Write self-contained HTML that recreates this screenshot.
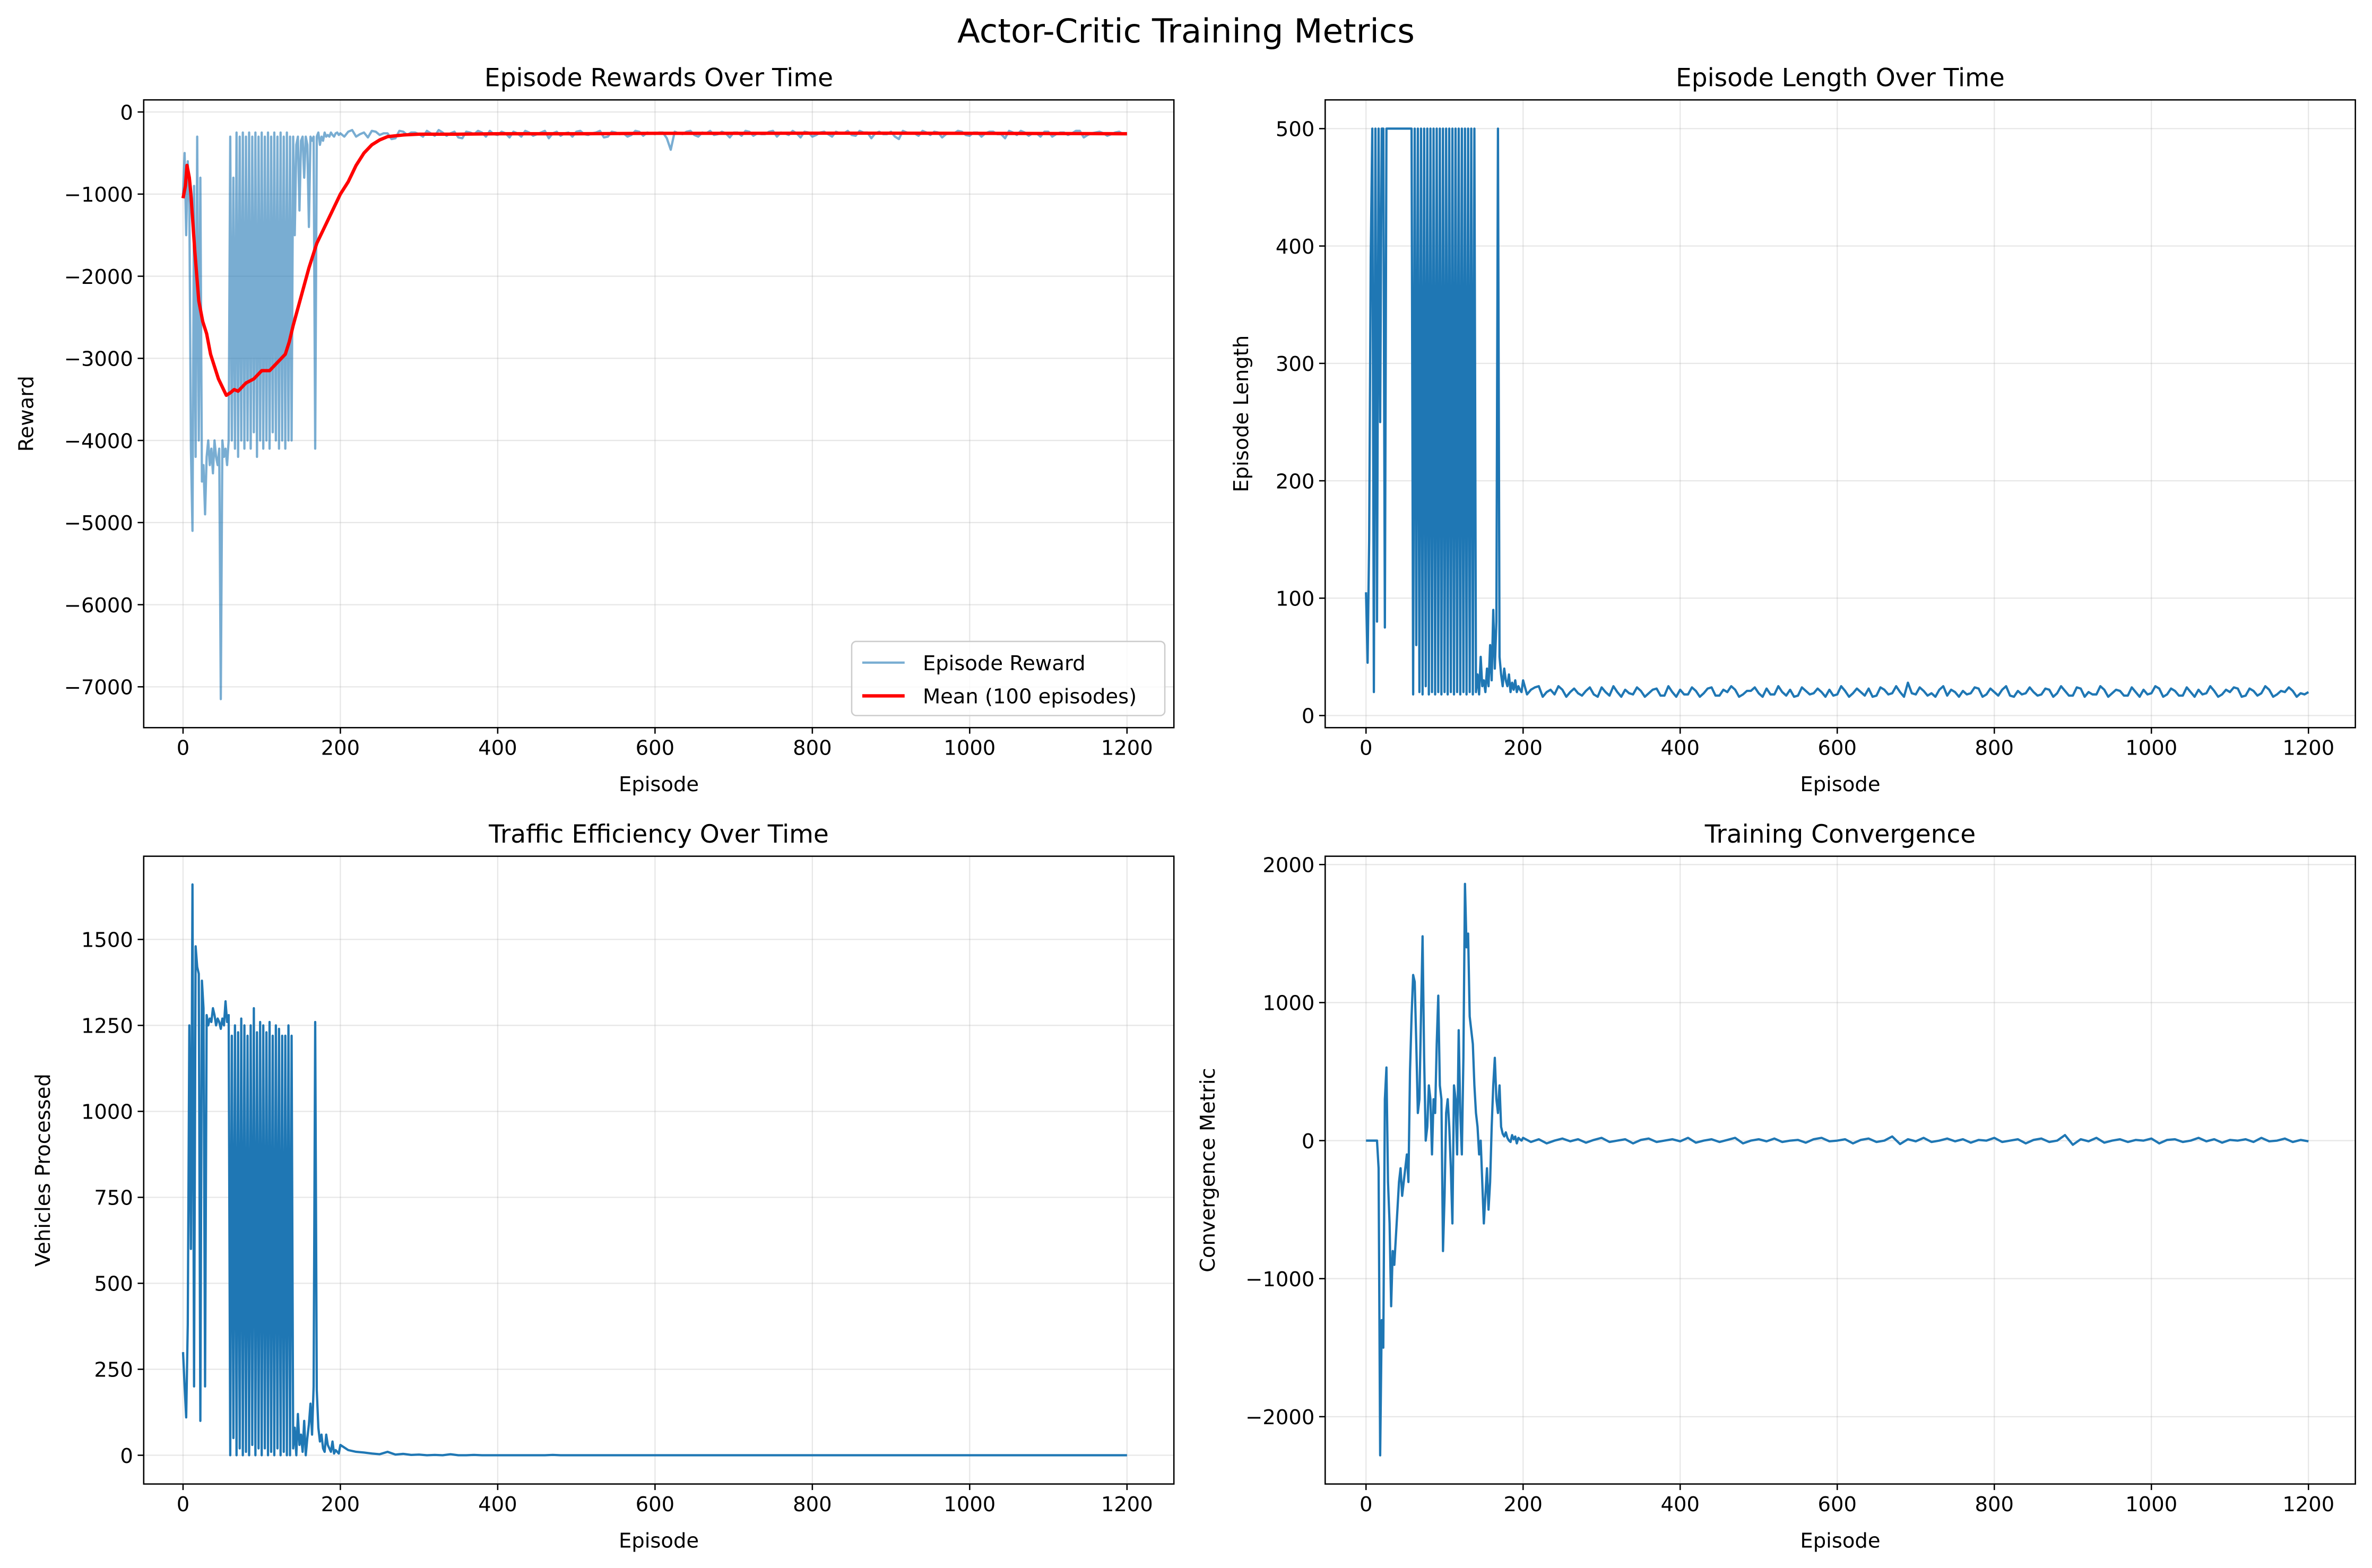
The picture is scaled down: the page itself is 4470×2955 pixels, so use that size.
<!DOCTYPE html>
<html><head><meta charset="utf-8"><style>html,body{margin:0;padding:0;background:#fff}svg{display:block}text{font-family:"DejaVu Sans","Liberation Sans",sans-serif;fill:#000}</style></head>
<body>
<svg id="fig" width="4470" height="2955" viewBox="0 0 1568 1036.5" xmlns="http://www.w3.org/2000/svg">
<rect width="1568" height="1036.5" fill="#fff"/>
<text x="784" y="28" font-size="22" text-anchor="middle">Actor-Critic Training Metrics</text>
</svg>
<script>
// Dense section: episodes 0..198 step 2; tail: 200..1200 step 10; tailB: 205..1195 step 10
const rewardDense = [-1000,-500,-1500,-600,-1100,-4100,-5100,-900,-4200,-300,
-4000,-800,-4500,-4300,-4900,-4200,-4000,-4300,-4100,-4400,
-4000,-4200,-4300,-4100,-7150,-4000,-4200,-4100,-4300,-4000,
-300,-4000,-800,-4100,-250,-4200,-300,-4000,-250,-4100,
-300,-4000,-250,-4100,-300,-3900,-250,-4200,-300,-4000,
-250,-4100,-300,-4000,-250,-4100,-300,-3900,-250,-4000,
-300,-4100,-250,-4000,-300,-4100,-250,-4000,-300,-4000,
-300,-1500,-400,-300,-1200,-350,-300,-800,-300,-400,
-1400,-300,-350,-300,-4100,-300,-250,-400,-300,-350,
-250,-300,-280,-300,-250,-280,-300,-260,-250,-280];
const rewardTail = [-260,-240,-300,-250,-230,-280,-260,-320,-240,-250,-270,-230,-290,-250,-260,-310,-240,-270,-250,-230,
-280,-260,-240,-300,-250,-270,-230,-260,-290,-250,-240,-270,-260,-230,-300,-250,-260,-280,-240,-250,
-270,-250,-460,-260,-240,-280,-250,-230,-270,-260,-250,-290,-240,-260,-270,-230,-250,-280,-260,-240,
-300,-250,-270,-240,-260,-280,-230,-250,-260,-270,-240,-330,-250,-260,-230,-280,-250,-270,-260,-240,
-290,-250,-260,-240,-270,-230,-280,-250,-260,-300,-240,-270,-250,-260,-230,-280,-250,-260,-270,-240,-260];
const rewardTailB = [-300,-220,-270,-310,-240,-260,-330,-230,-280,-250,-300,-260,-220,-290,-240,-320,-250,-230,-300,-270,
-240,-310,-260,-230,-290,-250,-320,-240,-260,-300,-230,-280,-250,-310,-240,-270,-300,-230,-290,-260,
-250,-320,-240,-270,-230,-300,-260,-280,-240,-310,-250,-230,-290,-270,-240,-300,-260,-230,-310,-250,
-280,-240,-300,-260,-230,-290,-250,-320,-240,-270,-300,-230,-260,-290,-250,-240,-310,-260,-230,-280,
-250,-300,-240,-270,-320,-250,-230,-290,-260,-240,-300,-250,-280,-230,-310,-260,-240,-290,-250,-270];
const meanEp = [0,3,5,8,10,15,20,25,30,35,40,45,50,55,60,65,70,80,90,100,110,120,130,135,140,150,160,170,180,190,200,210,220,230,240,250,260,280,300,350,400,500,600,700,800,900,1000,1100,1200];
const meanVal = [-1050,-900,-650,-800,-1000,-1700,-2300,-2550,-2700,-2950,-3100,-3250,-3350,-3450,-3420,-3380,-3400,-3300,-3250,-3150,-3150,-3050,-2950,-2800,-2600,-2250,-1900,-1600,-1400,-1200,-1000,-850,-650,-500,-400,-340,-300,-280,-270,-270,-265,-265,-260,-260,-258,-258,-260,-262,-265];
const lengthDense = [105,45,150,390,500,20,500,80,500,250,
500,500,75,500,500,500,500,500,500,500,
500,500,500,500,500,500,500,500,500,500,
18,500,60,500,20,500,18,500,25,500,
18,500,20,500,18,500,20,500,18,500,
20,500,18,500,20,500,18,500,20,500,
18,500,20,500,18,500,20,500,18,500,
20,35,18,50,25,30,20,40,25,60,
30,90,40,80,500,50,35,25,40,30,
25,35,20,28,22,30,20,25,22,20];
const lengthTail = [30,22,25,20,18,22,20,19,21,18,24,17,20,22,18,21,19,23,17,20,
22,18,21,19,24,17,20,22,18,21,19,23,18,20,22,17,21,19,20,22,
18,21,19,20,23,17,22,19,20,28,18,21,19,22,17,20,21,19,23,18,
20,22,17,21,19,20,18,22,19,21,17,23,20,18,22,19,21,17,20,22,
19,23,18,21,17,20,22,19,21,18,20,23,17,21,19,22,18,20,21,19,20];
const lengthTailB = [18,24,16,22,25,16,23,17,24,16,20,25,16,19,24,16,22,17,25,16,
18,24,16,23,17,22,25,16,21,24,16,18,25,17,16,24,18,23,16,17,
25,16,23,17,16,24,18,25,16,19,24,17,16,25,22,16,18,24,16,23,
17,25,16,18,24,17,23,16,25,17,24,16,18,25,16,22,17,24,16,18,
25,16,23,17,24,16,18,25,16,22,24,16,23,17,25,16,21,24,16,18];
const vehDense = [300,200,110,380,1250,600,1660,200,1480,1420,
1400,100,1380,1300,200,1280,1250,1270,1260,1300,
1280,1250,1270,1260,1240,1270,1250,1320,1260,1280,
0,1220,50,1250,0,1230,20,1270,0,1250,
10,1220,0,1250,30,1300,0,1230,20,1260,
0,1250,20,1230,0,1260,10,1220,0,1250,
20,1240,0,1220,10,1220,0,1250,0,1220,
20,80,0,120,30,60,10,100,0,50,
90,150,60,200,1260,190,80,40,60,20,
10,60,30,20,10,40,5,15,10,5];
const vehTail = [30,15,10,8,5,3,10,2,4,1,2,0,1,0,3,0,0,1,0,0,
0,0,0,0,0,0,0,1,0,0,0,0,0,0,0,0,0,0,0,0,
0,0,0,0,0,0,0,0,0,0,0,0,0,0,0,0,0,0,0,0,
0,0,0,0,0,0,0,0,0,0,0,0,0,0,0,0,0,0,0,0,
0,0,0,0,0,0,0,0,0,0,0,0,0,0,0,0,0,0,0,0,0];
const convDense = [0,0,0,0,0,0,0,0,-200,-2280,
-1300,-1500,300,530,-300,-600,-1200,-800,-900,-700,
-500,-300,-200,-400,-300,-200,-100,-300,500,900,
1200,1150,700,200,300,900,1480,600,0,100,
400,300,-100,300,200,700,1050,400,300,-800,
-400,200,300,100,-200,-600,400,300,-100,800,
200,-100,600,1860,1400,1500,900,800,700,400,
200,100,-100,0,-300,-600,-400,-200,-500,-300,
100,400,600,300,200,400,100,50,30,60,
20,0,-10,40,10,30,-20,20,10,0];
const convTail = [20,-10,10,-20,0,15,-5,10,-15,5,20,-10,0,10,-20,5,15,-10,0,10,
-5,20,-15,0,10,-10,5,20,-20,0,10,-5,15,-10,0,5,-15,10,20,-5,
0,10,-20,5,15,-10,0,30,-25,10,-5,20,-10,0,15,-5,10,-15,5,0,
20,-10,0,10,-20,5,15,-10,0,40,-30,10,-5,20,-15,0,10,-10,5,0,
15,-20,5,10,-10,0,20,-5,10,-15,5,0,10,-10,20,-5,0,15,-10,5,-5];
const xTicks = [0,200,400,600,800,1000,1200];
const rewardTicks = [0,-1000,-2000,-3000,-4000,-5000,-6000,-7000];
const lengthTicks = [0,100,200,300,400,500];
const vehTicks = [0,250,500,750,1000,1250,1500];
const convTicks = [-2000,-1000,0,1000,2000];

const NS='http://www.w3.org/2000/svg';
const svg=document.getElementById('fig');
function mk(tag,attrs,parent){const e=document.createElementNS(NS,tag);for(const k in attrs)e.setAttribute(k,attrs[k]);(parent||svg).appendChild(e);return e;}
function eps(n){const a=[];for(let i=0;i<n;i++)a.push(i<100?2*i:200+10*(i-100));return a;}
function interleave(dense,tail,tailB){
  const ep=[],v=[];
  dense.forEach((d,i)=>{ep.push(2*i);v.push(d);});
  tail.forEach((d,i)=>{ep.push(200+10*i);v.push(d);
    if(tailB&&i<tailB.length){ep.push(205+10*i);v.push(tailB[i]);}});
  return {ep:ep,vals:v};
}
function fmt(v){return v<0?'\u2212'+(-v):String(v);}

function panel(o){
  const g=mk('g',{});
  
  
  const [L,T,R,B]=o.box;
  const X=e=>o.x0+e*(o.x1-o.x0)/1200;
  const Y=v=>o.y0+(v-o.v0)*(o.y1-o.y0)/(o.v1-o.v0);
  xTicks.forEach(t=>{const l=mk('line',{x1:X(t),x2:X(t),y1:T,y2:B,stroke:'#b0b0b0','stroke-opacity':0.3,'stroke-width':0.8},g);
    
    });
  o.yTicks.forEach(t=>{const l=mk('line',{x1:L,x2:R,y1:Y(t),y2:Y(t),stroke:'#b0b0b0','stroke-opacity':0.3,'stroke-width':0.8},g);
    
    });
  o.series.forEach(s=>{
    const xs=s.ep||eps(s.vals.length);
    const d=s.vals.map((v,i)=>(i?'L':'M')+X(xs[i]).toFixed(2)+','+Y(v).toFixed(2)).join('');
    const p=mk('path',{d:d,fill:'none',stroke:s.color,'stroke-width':s.w,'stroke-opacity':s.op||1,'stroke-linejoin':'round'},g);
    
    
  });
  const f=mk('rect',{x:L,y:T,width:R-L,height:B-T,fill:'none',stroke:'#000','stroke-width':0.9},g);
  
  
  xTicks.forEach(t=>{mk('line',{x1:X(t),x2:X(t),y1:B,y2:B+4,stroke:'#000','stroke-width':0.9},g);
    const tx=mk('text',{x:X(t),y:B+18,'font-size':13.5,'text-anchor':'middle'},g);tx.textContent=fmt(t);
    
    });
  o.yTicks.forEach(t=>{mk('line',{x1:L-4,x2:L,y1:Y(t),y2:Y(t),stroke:'#000','stroke-width':0.9},g);
    const tx=mk('text',{x:L-7,y:Y(t)+5,'font-size':13.5,'text-anchor':'end'},g);tx.textContent=fmt(t);
    
    });
  const ti=mk('text',{x:(L+R)/2,y:T-9,'font-size':16.5,'text-anchor':'middle'},g);ti.textContent=o.title;
  
  
  const xl=mk('text',{x:(L+R)/2,y:B+42,'font-size':13.5,'text-anchor':'middle'},g);xl.textContent='Episode';
  
  
  const yx=o.ylx, yy=(T+B)/2;
  const yl=mk('text',{x:yx,y:yy,'font-size':13.5,'text-anchor':'middle',transform:`rotate(-90 ${yx} ${yy})`},g);yl.textContent=o.ylabel;
  
  
  return g;
}

const rw=interleave(rewardDense,rewardTail,rewardTailB);
const ln=interleave(lengthDense,lengthTail,lengthTailB);
panel({name:'episode-rewards-panel',box:[95,66,776,481],x0:121,x1:745,v0:0,y0:74,v1:-7000,y1:454,yTicks:rewardTicks,title:'Episode Rewards Over Time',ylabel:'Reward',ylx:22,
  series:[{name:'episode-reward-line',ep:rw.ep,vals:rw.vals,color:'#1f77b4',w:1.5,op:0.6},
          {name:'mean-reward-line',ep:meanEp,vals:meanVal,color:'#ff0000',w:2.2}]});
panel({name:'episode-length-panel',box:[876,66,1557,481],x0:903,x1:1526,v0:0,y0:473,v1:500,y1:85,yTicks:lengthTicks,title:'Episode Length Over Time',ylabel:'Episode Length',ylx:825,
  series:[{name:'episode-length-line',ep:ln.ep,vals:ln.vals,color:'#1f77b4',w:1.5}]});
panel({name:'traffic-efficiency-panel',box:[95,566,776,981],x0:121,x1:745,v0:0,y0:962,v1:1500,y1:621,yTicks:vehTicks,title:'Traffic Efficiency Over Time',ylabel:'Vehicles Processed',ylx:33,
  series:[{name:'vehicles-processed-line',vals:vehDense.concat(vehTail),color:'#1f77b4',w:1.5}]});
panel({name:'training-convergence-panel',box:[876,566,1557,981],x0:903,x1:1526,v0:0,y0:754,v1:2000,y1:571.5,yTicks:convTicks,title:'Training Convergence',ylabel:'Convergence Metric',ylx:803,
  series:[{name:'convergence-line',vals:convDense.concat(convTail),color:'#1f77b4',w:1.5}]});

const lg=mk('g',{});


mk('rect',{x:563,y:424,width:207,height:49,rx:3,fill:'#fff','fill-opacity':0.8,stroke:'#cccccc','stroke-width':0.9},lg);
mk('line',{x1:570,x2:598,y1:438,y2:438,stroke:'#1f77b4','stroke-opacity':0.6,'stroke-width':1.5},lg);
const l1=mk('text',{x:610,y:443,'font-size':13.5},lg);l1.textContent='Episode Reward';


mk('line',{x1:570,x2:598,y1:460,y2:460,stroke:'#ff0000','stroke-width':2.2},lg);
const l2=mk('text',{x:610,y:465,'font-size':13.5},lg);l2.textContent='Mean (100 episodes)';


</script>
</body></html>
